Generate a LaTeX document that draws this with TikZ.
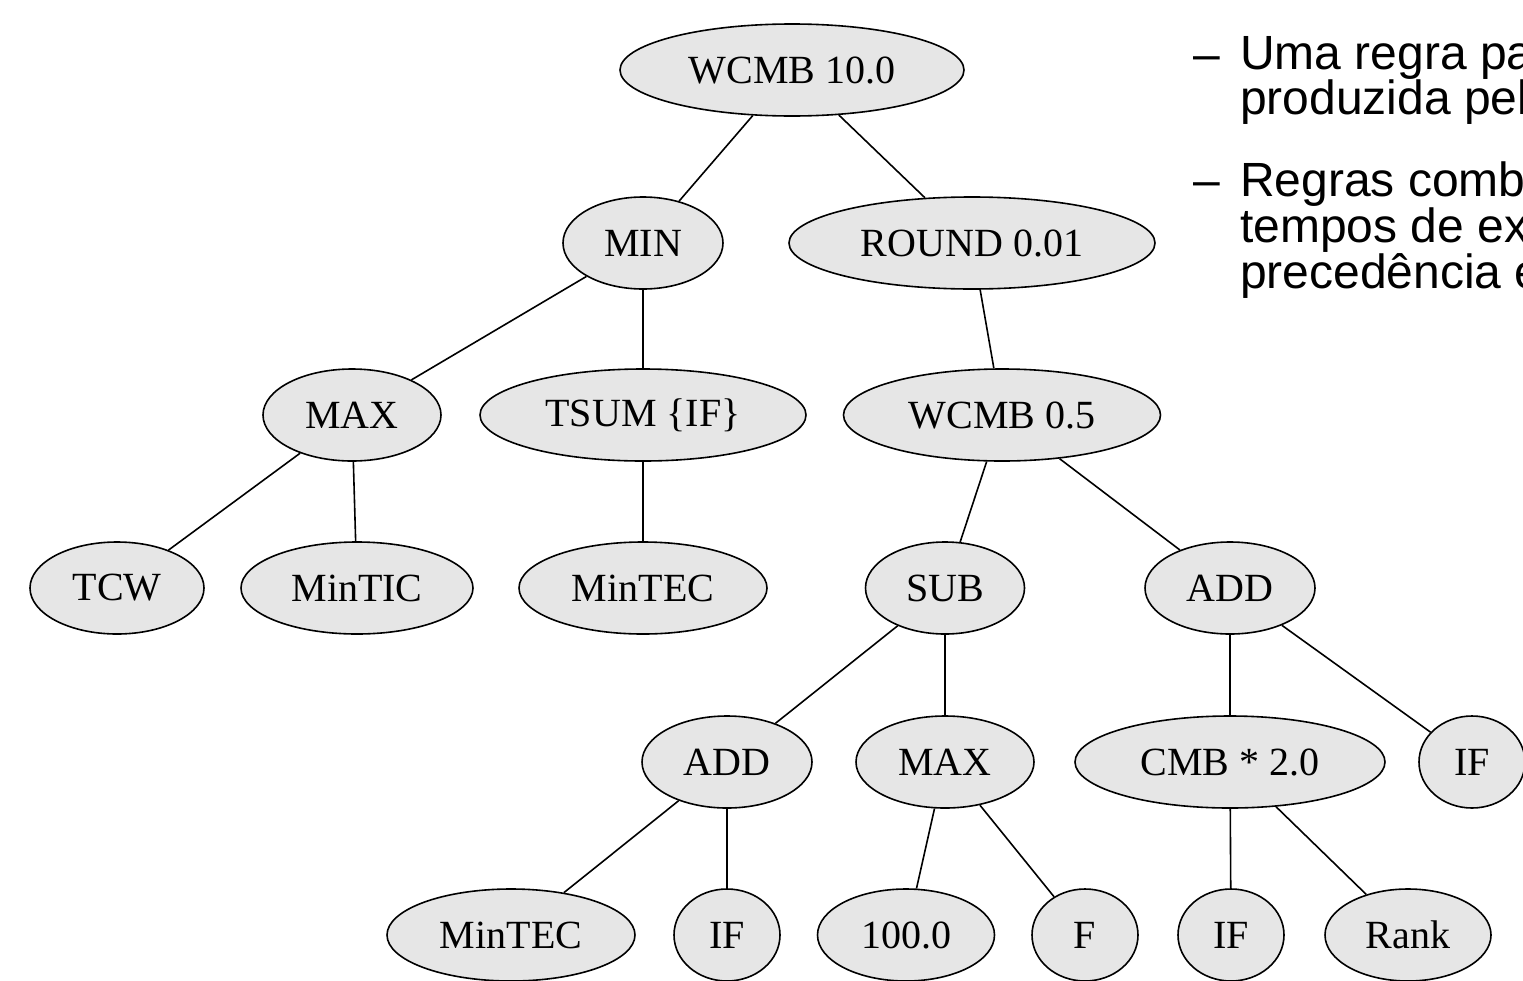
\documentclass[tikz,border=0pt]{standalone}
\usepackage{fontspec}
\setmainfont{Liberation Serif}
\newfontfamily\slidefont{Liberation Sans}
\usetikzlibrary{shapes.geometric}
\definecolor{nodegray}{RGB}{230,230,230}
\tikzset{
  treenode/.style={ellipse, draw, line width=1.6, fill=nodegray, minimum height=92, inner sep=0,
    font=\fontsize{40}{40}\selectfont},
  treeedge/.style={line width=1.6},
  slidedash/.style={font=\slidefont\fontsize{48}{43}\selectfont, inner sep=0, anchor=base west},
  slideitem/.style={font=\slidefont\fontsize{48}{43}\selectfont, inner sep=0, anchor=north west, align=left}
}
\begin{document}
\begin{tikzpicture}[x=1pt,y=-1pt]
    \useasboundingbox (0,0) rectangle (1523,980);
    \clip (0,0) rectangle (1523,980);

    % level 0
    \node [treenode, minimum width=344] (wcmbTop) at (792,70) {WCMB 10.0};
    % level 1
    \node [treenode, minimum width=160] (min) at (643,243) {MIN};
    \node [treenode, minimum width=366] (round) at (972,243) {ROUND 0.01};
    % level 2
    \node [treenode, minimum width=178] (maxA) at (352,415) {MAX};
    \node [treenode, minimum width=326] (tsum) at (643,415) {TSUM \{IF\}};
    \node [treenode, minimum width=317] (wcmbHalf) at (1002,415) {WCMB 0.5};
    % level 3
    \node [treenode, minimum width=174] (tcw) at (117,588) {TCW};
    \node [treenode, minimum width=232] (mintic) at (357,588) {MinTIC};
    \node [treenode, minimum width=248] (mintecA) at (643,588) {MinTEC};
    \node [treenode, minimum width=159] (sub) at (945,588) {SUB};
    \node [treenode, minimum width=170] (addA) at (1230,588) {ADD};
    % level 4
    \node [treenode, minimum width=170] (addB) at (727,762) {ADD};
    \node [treenode, minimum width=178] (maxB) at (945,762) {MAX};
    \node [treenode, minimum width=310] (cmb) at (1230,762) {CMB * 2.0};
    \node [treenode, minimum width=106] (ifA) at (1472,762) {IF};
    % level 5
    \node [treenode, minimum width=248] (mintecB) at (511,935) {MinTEC};
    \node [treenode, minimum width=106] (ifB) at (727,935) {IF};
    \node [treenode, minimum width=177] (hundred) at (906,935) {100.0};
    \node [treenode, minimum width=106] (f) at (1085,935) {F};
    \node [treenode, minimum width=106] (ifC) at (1231,935) {IF};
    \node [treenode, minimum width=166] (rank) at (1408,935) {Rank};

    % edges
    \draw [treeedge] (wcmbTop) -- (min);
    \draw [treeedge] (wcmbTop) -- (round);
    \draw [treeedge] (min) -- (maxA);
    \draw [treeedge] (min) -- (tsum);
    \draw [treeedge] (round) -- (wcmbHalf);
    \draw [treeedge] (maxA) -- (tcw);
    \draw [treeedge] (maxA) -- (mintic);
    \draw [treeedge] (tsum) -- (mintecA);
    \draw [treeedge] (wcmbHalf) -- (sub);
    \draw [treeedge] (wcmbHalf) -- (addA);
    \draw [treeedge] (sub) -- (addB);
    \draw [treeedge] (sub) -- (maxB);
    \draw [treeedge] (addA) -- (cmb);
    \draw [treeedge] (addA) -- (ifA);
    \draw [treeedge] (addB) -- (mintecB);
    \draw [treeedge] (addB) -- (ifB);
    \draw [treeedge] (maxB) -- (hundred);
    \draw [treeedge] (maxB) -- (f);
    \draw [treeedge] (cmb) -- (ifC);
    \draw [treeedge] (cmb) -- (rank);

    % slide text
    \node [slidedash] (dashA) at (1193,70) {–};
    \node [slideitem] (itemA) at (1240,36) {Uma regra pa\\produzida pel};
    \node [slidedash] (dashB) at (1193,196) {–};
    \node [slideitem] (itemB) at (1240,162) {Regras comb\\tempos de ex\\precedência e};
\end{tikzpicture}
\end{document}
